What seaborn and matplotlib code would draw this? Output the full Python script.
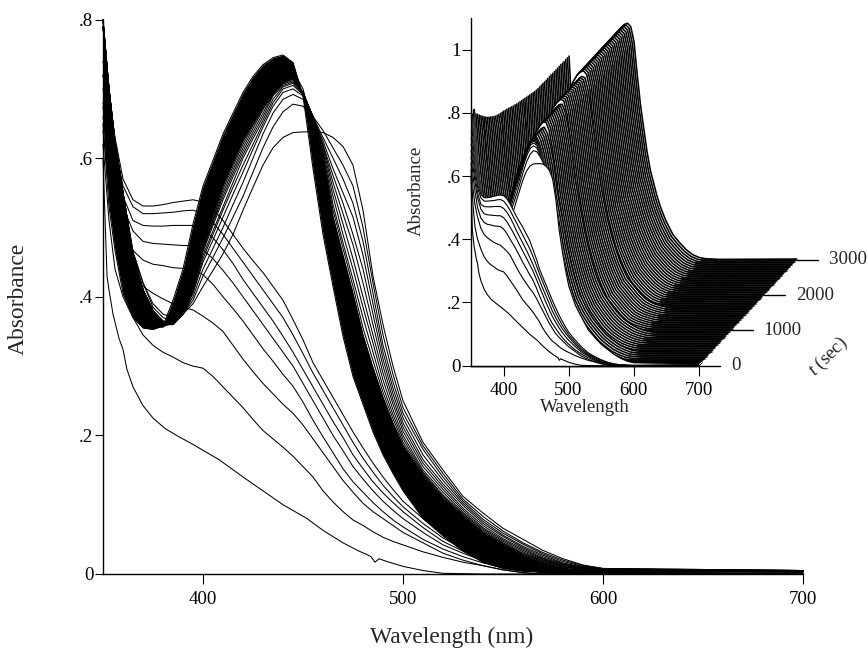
import numpy as np
import pandas as pd
import seaborn as sb
from matplotlib import pyplot as plt

sb.set_style("white")
plt.rcParams['font.family'] = ['Liberation Serif', 'DejaVu Serif']
plt.rcParams['mathtext.fontset'] = 'custom'
plt.rcParams['mathtext.it'] = 'Liberation Serif:italic'
plt.rcParams['mathtext.rm'] = 'Liberation Serif'

# wavelengths shared by the spectra
wl = [350, 353, 356, 360, 365, 370, 375, 380, 385, 390, 395, 400,
      405, 410, 415, 420, 425, 430, 435, 440, 445, 450, 455, 460, 465, 470, 475, 480, 485, 490, 495, 500,
      510, 520, 530, 540, 550, 560, 570, 580, 590, 600, 700]

# first spectrum has its own grid because of the small glitch near 486 nm
wl_first = [350, 352, 353, 355, 358, 360, 362, 365, 370, 375, 381, 388, 395, 408, 420, 428, 440, 452,
            460, 470, 478, 482, 484, 486, 488, 492, 500, 510, 520, 540, 600, 700]
t1 = [.60, .43, .41, .375, .34, .324, .295, .27, .243, .225, .21, .198, .187, .165, .14, .124, .10, .08,
      .063, .045, .033, .028, .025, .017, .022, .018, .011, .005, .001, 0, 0, .001]

# the fast early spectra, plateau near 400 nm
t2 = [.62, .51, .44, .40, .37, .345, .33, .32, .313, .305, .30, .297,
      .285, .27, .255, .24, .223, .207, .195, .183, .17, .155, .14, .12, .104, .09, .078, .07, .061, .053, .047, .042,
      .032, .024, .017, .012, .006, .002, 0, 0, 0, 0, .001]
t3 = [.64, .56, .51, .47, .435, .415, .405, .397, .39, .385, .381, .372,
      .362, .35, .33, .31, .292, .275, .26, .245, .232, .215, .195, .175, .155, .135, .118, .102, .09, .08, .07, .06,
      .045, .03, .02, .012, .006, .002, 0, 0, 0, 0, .001]
t4 = [.66, .60, .55, .50, .467, .453, .447, .445, .442, .441, .44, .432,
      .418, .40, .383, .365, .345, .325, .307, .288, .271, .248, .222, .198, .175, .152, .133, .118, .103, .09, .078, .068,
      .05, .036, .025, .016, .009, .005, .002, .001, 0, 0, .001]
t5 = [.68, .63, .58, .53, .495, .48, .477, .476, .475, .474, .474, .468,
      .455, .438, .42, .40, .38, .36, .34, .32, .30, .275, .25, .225, .20, .178, .155, .137, .12, .105, .092, .08,
      .06, .042, .03, .019, .011, .006, .002, .001, 0, 0, .001]
t6 = [.70, .65, .60, .545, .51, .503, .502, .502, .503, .503, .503, .497,
      .485, .468, .448, .425, .405, .385, .365, .343, .32, .295, .27, .245, .22, .197, .172, .152, .133, .117, .103, .09,
      .067, .047, .033, .022, .013, .007, .003, .001, 0, 0, .001]
t7 = [.72, .67, .62, .56, .53, .52, .52, .521, .522, .524, .525, .52,
      .507, .49, .47, .45, .43, .41, .39, .37, .345, .318, .29, .265, .24, .215, .19, .167, .147, .128, .112, .097,
      .073, .052, .036, .025, .016, .009, .004, .002, .001, 0, .001]
t8 = [.74, .69, .63, .57, .54, .531, .531, .533, .536, .538, .54, .537,
      .527, .51, .49, .47, .452, .435, .415, .395, .367, .338, .305, .28, .255, .23, .205, .182, .16, .14, .122, .105,
      .08, .058, .04, .028, .018, .01, .005, .002, .001, 0, .001]

# the fan, peak grows and the right side walks back towards the band
f1 = [.79, .69, .62, .55, .465, .42, .39, .375, .37, .375, .39, .415,
      .438, .462, .49, .525, .558, .59, .615, .63, .637, .638, .638, .637, .63, .617, .59, .525, .43, .36, .30, .25,
      .19, .15, .112, .088, .066, .05, .034, .022, .013, .008, .005]
f2 = [.79, .69, .62, .55, .465, .42, .385, .37, .365, .375, .395, .43,
      .457, .485, .515, .545, .58, .615, .645, .667, .678, .675, .66, .64, .615, .59, .56, .50, .42, .345, .288, .24,
      .185, .145, .108, .083, .062, .045, .031, .02, .012, .008, .005]
f3 = [.79, .70, .62, .55, .46, .41, .38, .365, .362, .375, .40, .44,
      .47, .50, .533, .565, .60, .635, .665, .685, .692, .685, .66, .63, .60, .57, .535, .48, .405, .33, .277, .232,
      .18, .14, .105, .079, .059, .043, .029, .018, .011, .007, .005]
f4 = [.79, .70, .62, .55, .46, .41, .38, .365, .362, .375, .405, .45,
      .482, .515, .548, .58, .613, .645, .675, .695, .70, .69, .66, .625, .585, .55, .515, .46, .39, .32, .268, .225,
      .172, .135, .102, .076, .056, .04, .027, .016, .01, .007, .005]
f5 = [.79, .70, .62, .55, .46, .41, .38, .363, .361, .375, .408, .455,
      .49, .525, .558, .59, .62, .65, .68, .70, .705, .692, .66, .62, .575, .535, .49, .44, .375, .31, .26, .218,
      .165, .13, .099, .073, .054, .038, .025, .015, .009, .006, .005]
f6 = [.79, .70, .62, .55, .46, .41, .38, .362, .361, .375, .41, .46,
      .495, .53, .565, .60, .628, .655, .685, .703, .708, .693, .66, .618, .565, .52, .475, .42, .36, .30, .252, .212,
      .16, .126, .095, .07, .051, .036, .023, .014, .009, .006, .005]
f7 = [.80, .70, .625, .55, .46, .41, .38, .361, .36, .375, .41, .465,
      .503, .54, .573, .605, .633, .66, .69, .705, .71, .694, .66, .615, .555, .505, .455, .40, .345, .29, .245, .206,
      .155, .122, .092, .067, .049, .034, .022, .013, .008, .006, .005]
f8 = [.80, .70, .625, .55, .46, .41, .38, .361, .36, .375, .412, .468,
      .507, .545, .578, .61, .638, .665, .692, .707, .712, .695, .66, .61, .545, .49, .44, .385, .333, .28, .237, .20,
      .15, .118, .089, .065, .047, .032, .021, .012, .008, .005, .004]
f9 = [.80, .70, .625, .55, .46, .41, .38, .36, .36, .375, .413, .47,
      .51, .55, .583, .615, .643, .67, .693, .708, .714, .695, .66, .607, .533, .478, .425, .37, .32, .27, .23, .195,
      .147, .114, .087, .063, .045, .03, .02, .011, .007, .005, .004]
f10 = [.80, .70, .625, .55, .46, .41, .38, .36, .36, .375, .414, .472,
       .513, .555, .588, .62, .647, .672, .694, .709, .715, .695, .658, .603, .525, .47, .415, .355, .308, .262, .224, .19,
       .145, .112, .085, .061, .044, .029, .019, .01, .007, .005, .004]

# the black band, b1 is its early edge, b4 the last spectrum
b1 = [.80, .70, .625, .55, .46, .41, .38, .36, .36, .375, .415, .475,
      .518, .56, .593, .625, .65, .675, .695, .71, .716, .695, .655, .60, .516, .46, .405, .345, .298, .255, .218, .186,
      .143, .11, .084, .06, .043, .028, .018, .01, .007, .005, .004]
b2 = [.72, .66, .58, .50, .43, .385, .365, .357, .362, .39, .435, .495,
      .542, .585, .62, .65, .675, .695, .712, .725, .727, .70, .645, .575, .49, .43, .375, .32, .275, .235, .20, .17,
      .125, .095, .068, .047, .032, .02, .012, .007, .005, .004, .004]
b3 = [.675, .60, .52, .45, .40, .37, .357, .356, .375, .415, .47, .53,
      .572, .61, .642, .67, .695, .715, .728, .737, .732, .69, .615, .535, .45, .385, .33, .28, .24, .205, .173, .145,
      .10, .075, .05, .03, .019, .012, .007, .004, .003, .003, .004]
b4 = [.65, .53, .467, .405, .37, .355, .353, .358, .395, .44, .505, .56,
      .597, .635, .665, .695, .718, .735, .745, .749, .738, .69, .585, .49, .415, .343, .285, .245, .205, .172, .145, .12,
      .08, .055, .033, .017, .008, .004, .003, .002, .002, .002, .003]

early = [t2, t3, t4, t5, t6, t7, t8]
fan = [f1, f2, f3, f4, f5, f6, f7, f8, f9, f10]
band = [b1, b2, b3, b4]

# times used for the stack in the inset
early_times = [1, 2, 3, 4, 5, 6, 7]
fan_times = [10, 20, 30, 40, 50, 60, 70, 80, 90, 100]
b1_times = [150, 200, 250, 300, 350]
b2_times = [400, 450, 500, 550, 600, 650, 700, 750, 800, 850, 900]
b3_times = [950, 1000, 1050, 1100, 1150, 1200, 1250, 1300, 1350, 1400, 1450, 1500, 1550, 1600]
b4_times = [1650, 1700, 1750, 1800, 1850, 1900, 1950, 2000, 2050, 2100, 2150, 2200, 2250, 2300,
            2350, 2400, 2450, 2500, 2550, 2600, 2650, 2700, 2750, 2800, 2850, 2900, 2950, 3000]
b1_start = [.78, .773, .765, .757, .75]
b2_start = [.743, .736, .73, .725, .72, .715, .71, .706, .703, .70, .698]
b3_start = [.696, .694, .691, .689, .686, .683, .68, .677, .675, .672, .67, .668, .666, .664]
b4_start = [.662, .66, .658, .656, .654, .652, .65, .649, .648, .648, .648, .648, .647, .647,
            .647, .647, .647, .646, .646, .646, .646, .646, .646, .645, .645, .645, .645, .645]

main_xticks = [400, 500, 600, 700]
main_yticks = [0, .2, .4, .6, .8]
main_ylabels = ['0', '.2', '.4', '.6', '.8']
inset_yticks = [0, .2, .4, .6, .8, 1]
inset_ylabels = ['0', '.2', '.4', '.6', '.8', '1']
t_ticks = [0, 1000, 2000, 3000]

W, H = 868, 653
fig = plt.figure(figsize=(W / 100, H / 100), dpi=100)


def px_axes(left, top, right, bottom):
    return fig.add_axes([left / W, 1 - bottom / H, (right - left) / W, (bottom - top) / H])


# main plot
ax = px_axes(103, 19.6, 803, 574)
rows = [pd.DataFrame({'wl': wl_first, 'abs': t1, 'curve': 'first'})]
for i, c in enumerate(early + fan + band):
    rows.append(pd.DataFrame({'wl': wl, 'abs': c, 'curve': 'c%d' % i}))
df = pd.concat(rows)
ax.fill_between(wl, b1, b4, color='k', lw=0)
sb.lineplot(data=df, x='wl', y='abs', units='curve', estimator=None, color='k', lw=0.75, ax=ax,
            legend=False, clip_on=False)
ax.set_xlim(350, 700)
ax.set_ylim(0, .8)
ax.set_xticks(main_xticks)
ax.set_yticks(main_yticks)
ax.set_yticklabels(main_ylabels)
ax.set_xlabel('')
ax.set_ylabel('')
ax.set_facecolor('none')
sb.despine(ax=ax)
for s in ['left', 'bottom']:
    ax.spines[s].set_color('k')
    ax.spines[s].set_linewidth(1.0)
ax.tick_params(axis='x', bottom=True, direction='out', length=7, width=0.8, labelsize=13.6, pad=5, colors='k')
ax.tick_params(axis='y', left=True, direction='out', length=6, width=0.8, labelsize=13.6, pad=1, colors='k')
fig.text(452 / W, 1 - 637 / H, 'Wavelength (nm)', fontsize=16.9, ha='center', va='center')
fig.text(18 / W, 1 - 299 / H, 'Absorbance', fontsize=16.9, rotation=90, ha='center', va='center')

# inset, a waterfall with hidden lines, front spectrum painted last
ins = px_axes(471, 18, 698.5, 365.7)
ins.set_facecolor('none')
ins.set_xlim(350, 700)
ins.set_ylim(0, 1.1)
nm_per_s = 150.8 / 3000
abs_per_s = .3345 / 3000

stack = [(t1, wl_first, 0, t1[0])]
for c, t in zip(early, early_times):
    stack.append((c, wl, t, c[0]))
for c, t in zip(fan, fan_times):
    stack.append((c, wl, t, c[0]))
for c, times, starts in zip(band, [b1_times, b2_times, b3_times, b4_times],
                            [b1_start, b2_start, b3_start, b4_start]):
    for t, s in zip(times, starts):
        stack.append((c, wl, t, s))

for z, (c, w, t, start) in enumerate(reversed(stack)):
    x = np.array(w) + t * nm_per_s
    y = np.array(c) + t * abs_per_s
    y[0] = start + t * abs_per_s
    ins.fill_between(x, y, t * abs_per_s, color='w', lw=0, zorder=2 + z * 2, clip_on=False)
    sb.lineplot(x=x, y=y, color='k', lw=1.15 if t >= 100 else 0.8, ax=ins, legend=False, clip_on=False,
                zorder=3 + z * 2, sort=False)
    ins.plot([x[0], x[-1]], [t * abs_per_s, t * abs_per_s], color='k', lw=1.1 if t >= 100 else 0.8,
             clip_on=False, zorder=3 + z * 2)

ins.set_xlabel('')
ins.set_ylabel('')
ins.set_xticks(main_xticks)
ins.set_yticks(inset_yticks)
ins.set_yticklabels(inset_ylabels)
ins.set_xlim(350, 700)
ins.set_ylim(0, 1.1)
sb.despine(ax=ins)
for s in ['left', 'bottom']:
    ins.spines[s].set_color('k')
    ins.spines[s].set_linewidth(1.0)
    ins.spines[s].set_zorder(500)
ins.tick_params(axis='x', bottom=True, direction='out', length=7, width=0.8, labelsize=13.6, pad=5, colors='k')
ins.tick_params(axis='y', left=True, direction='out', length=6.5, width=0.8, labelsize=13.6, pad=1, colors='k')

# time axis
for t in t_ticks:
    tx = 700 + t * nm_per_s
    ty = t * abs_per_s
    ins.plot([tx, tx + 33], [ty, ty], color='k', lw=1.0, clip_on=False, zorder=500)
    ins.text(tx + 50, ty, str(t), fontsize=13.6, ha='left', va='center', clip_on=False)
fig.text(828 / W, 1 - 357 / H, r'$\it{t}$ (sec)', fontsize=13.6, rotation=45, ha='center', va='center')
fig.text(585 / W, 1 - 408 / H, 'Wavelength', fontsize=13.6, ha='center', va='center')
fig.text(416 / W, 1 - 191 / H, 'Absorbance', fontsize=13.6, rotation=90, ha='center', va='center')

fig.savefig('out.png', dpi=100)
